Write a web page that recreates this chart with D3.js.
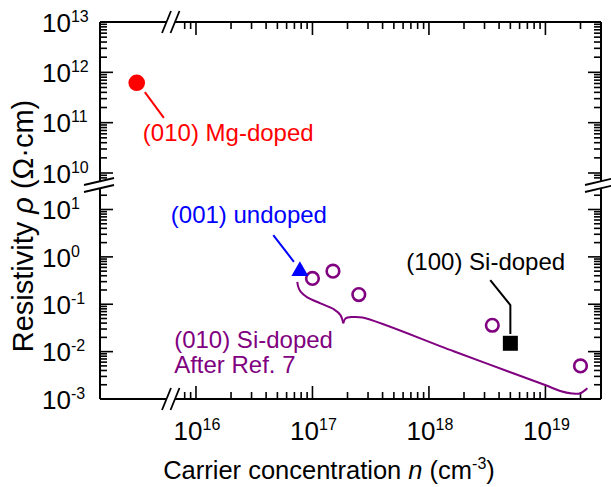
<!DOCTYPE html>
<html>
<head>
<meta charset="utf-8">
<script src="https://cdn.jsdelivr.net/npm/d3@7"></script>
<style>
  body { margin: 0; background: #fff; }
  text { font-family: "Liberation Sans", Arial, sans-serif; }
</style>
</head>
<body>
<svg id="chart" width="611" height="487"></svg>
<script>
// values (x: cm^-3, y: ohm.cm)
const mgDopedX = [3.1e15];
const mgDopedY = [6.2e11];
const undopedX = [7.8e16];
const undopedY = [0.5];
const siRef7X = [1e17, 1.5e17, 2.5e17, 3.5e18, 2e19];
const siRef7Y = [0.35, 0.5, 0.16, 0.036, 0.005];
const si100X = [5e18];
const si100Y = [0.015];

const xTickExps = [16, 17, 18, 19];
const yTopExps = [10, 11, 12, 13];
const yBotExps = [-3, -2, -1, 0, 1];

// curly brace + leader lines, in data units
const braceLeftX = [7.41e16, 7.55e16, 7.91e16, 9.03e16, 1.17e17, 1.53e17, 1.74e17, 1.84e17];
const braceLeftY = [0.298, 0.234, 0.184, 0.140, 0.1045, 0.078, 0.059, 0.0395];
const braceRightX = [1.84e17, 1.92e17, 2.21e17, 2.69e17, 1.63e18, 9.94e18, 1.34e19, 1.69e19, 1.98e19, 2.29e19];
const braceRightY = [0.0395, 0.0499, 0.0537, 0.0524, 0.01017, 0.00197, 0.00148, 0.00131, 0.00131, 0.00168];
const mgLeadX = [3.64e15, 5.3e15];
const mgLeadY = [4.06e11, 1.24e11];
const undopedLeadX = [4.61e16, 6.93e16];
const undopedLeadY = [2.88, 0.788];
const si100LeadX = [3.36e18, 5e18, 5e18];
const si100LeadY = [0.324, 0.0962, 0.0235];

const L = 100, R = 601, T = 22, B = 399;
const XB1 = 166.5, XB2 = 175;      // x-axis break
const YB1 = 181.5, YB2 = 188.5;    // y-axis break

const svg = d3.select('#chart');
const x = d3.scaleLog().domain([1.5e15, 3e19]).range([L, R]);
const yTop = d3.scaleLog().domain([1e10, 1e13]).range([173, T]);
const yBot = d3.scaleLog().domain([1e-3, 1e1]).range([B, 209.5]);

const frame = svg.append('g').attr('stroke', '#000').attr('fill', 'none');

// axis lines with gaps at the breaks
const hSegs = [[L, XB1], [XB2, R]];
const vSegs = [[T, YB1], [YB2, B]];
hSegs.forEach(([a, b]) => {
  [T, B].forEach(yy => frame.append('line').attr('x1', a).attr('x2', b)
    .attr('y1', yy).attr('y2', yy).attr('stroke-width', 2));
});
vSegs.forEach(([a, b]) => {
  [L, R].forEach(xx => frame.append('line').attr('x1', xx).attr('x2', xx)
    .attr('y1', a).attr('y2', b).attr('stroke-width', 2));
});

// break slashes
[XB1, XB2].forEach(xb => {
  [T, B].forEach(yy => frame.append('line')
    .attr('x1', xb - 4.5).attr('y1', yy + 11).attr('x2', xb + 4.5).attr('y2', yy - 11)
    .attr('stroke-width', 1.8));
});
[YB1, YB2].forEach(yb => {
  [L, R].forEach(xx => frame.append('line')
    .attr('x1', xx - 16).attr('y1', yb + 3.5).attr('x2', xx + 14).attr('y2', yb - 3.5)
    .attr('stroke-width', 1.8));
});

function logTicks(lo, hi) {
  const out = [];
  for (let e = lo; e <= hi; e++) for (let m = 1; m <= 9; m++) out.push({ v: m * Math.pow(10, e), major: m === 1 });
  return out;
}

// x ticks (only right of the break)
logTicks(15, 19).forEach(t => {
  const px = x(t.v);
  if (px < XB2 + 5 || px > R + 0.5) return;
  const len = t.major ? 13 : 7;
  frame.append('line').attr('x1', px).attr('x2', px).attr('y1', B).attr('y2', B - len).attr('stroke-width', 1.6);
  frame.append('line').attr('x1', px).attr('x2', px).attr('y1', T).attr('y2', T + len).attr('stroke-width', 1.6);
});

// y ticks, both sections, both sides
function yTicks(scale, lo, hi, pmin, pmax) {
  logTicks(lo, hi).forEach(t => {
    const py = scale(t.v);
    if (py < pmin - 0.5 || py > pmax + 0.5) return;
    const len = t.major ? 13 : 7;
    frame.append('line').attr('x1', L).attr('x2', L + len).attr('y1', py).attr('y2', py).attr('stroke-width', 1.6);
    frame.append('line').attr('x1', R).attr('x2', R - len).attr('y1', py).attr('y2', py).attr('stroke-width', 1.6);
  });
}
yTicks(yTop, 9, 13, T, YB1 - 3);
yTicks(yBot, -3, 1, YB2 + 4, B);

// tick labels
const labels = svg.append('g').attr('fill', '#000');
function powLabel(g, px, py, exp, anchor) {
  const t = g.append('text').attr('x', px).attr('y', py).attr('text-anchor', anchor)
    .style('font-size', '26px');
  t.append('tspan').text('10');
  t.append('tspan').attr('dy', -10).style('font-size', '16px').text(exp < 0 ? '-' + (-exp) : exp);
}
xTickExps.forEach(e => powLabel(labels, x(Math.pow(10, e)) + 1, 439.5, e, 'middle'));
yTopExps.forEach(e => powLabel(labels, 42, yTop(Math.pow(10, e)) + 9.8, e, 'start'));
yBotExps.forEach(e => powLabel(labels, 42, yBot(Math.pow(10, e)) + 9.8, e, 'start'));

// axis titles
const xt = svg.append('text').attr('x', 329).attr('y', 479).attr('text-anchor', 'middle')
  .style('font-size', '25.5px');
xt.append('tspan').text('Carrier concentration ');
xt.append('tspan').style('font-style', 'italic').text('n');
xt.append('tspan').text(' (cm');
xt.append('tspan').attr('dy', -10).style('font-size', '16px').text('-3');
xt.append('tspan').attr('dy', 10).text(')');

const yt = svg.append('text').attr('transform', 'translate(33,226) rotate(-90)')
  .attr('text-anchor', 'middle').style('font-size', '29px');
yt.append('tspan').text('Resistivity ');
yt.append('tspan').style('font-style', 'italic').text('ρ');
yt.append('tspan').text(' (Ω·cm)');

// brace and leader lines
const lineBot = d3.line().x(d => x(d[0])).y(d => yBot(d[1])).curve(d3.curveCatmullRom);
const lineTop = d3.line().x(d => x(d[0])).y(d => yTop(d[1]));
const zip = (a, b) => a.map((v, i) => [v, b[i]]);

svg.append('path').attr('d', lineBot(zip(braceLeftX, braceLeftY)))
  .attr('fill', 'none').attr('stroke', '#800080').attr('stroke-width', 2);
svg.append('path').attr('d', lineBot(zip(braceRightX, braceRightY)))
  .attr('fill', 'none').attr('stroke', '#800080').attr('stroke-width', 2);
svg.append('path').attr('d', lineTop(zip(mgLeadX, mgLeadY)))
  .attr('fill', 'none').attr('stroke', '#ff0000').attr('stroke-width', 2);
svg.append('path').attr('d', d3.line().x(d => x(d[0])).y(d => yBot(d[1]))(zip(undopedLeadX, undopedLeadY)))
  .attr('fill', 'none').attr('stroke', '#0000ff').attr('stroke-width', 2);
svg.append('path').attr('d', d3.line().x(d => x(d[0])).y(d => yBot(d[1]))(zip(si100LeadX, si100LeadY)))
  .attr('fill', 'none').attr('stroke', '#000').attr('stroke-width', 2);

// markers
svg.append('g').selectAll('circle').data(zip(mgDopedX, mgDopedY)).join('circle')
  .attr('cx', d => x(d[0])).attr('cy', d => yTop(d[1])).attr('r', 8.3).attr('fill', '#ff0000');
svg.append('g').selectAll('circle').data(zip(siRef7X, siRef7Y)).join('circle')
  .attr('cx', d => x(d[0])).attr('cy', d => yBot(d[1])).attr('r', 6.3)
  .attr('fill', 'none').attr('stroke', '#800080').attr('stroke-width', 2.6);
svg.append('g').selectAll('path').data(zip(undopedX, undopedY)).join('path')
  .attr('transform', d => `translate(${x(d[0])},${yBot(d[1])})`)
  .attr('d', d3.symbol(d3.symbolTriangle, 125)).attr('fill', '#0000ff');
svg.append('g').selectAll('rect').data(zip(si100X, si100Y)).join('rect')
  .attr('x', d => x(d[0]) - 7.5).attr('y', d => yBot(d[1]) - 7.5)
  .attr('width', 15).attr('height', 15).attr('fill', '#000');

// annotation text
const ann = svg.append('g').style('font-size', '24px');
ann.append('text').attr('x', x(3.5e15)).attr('y', yTop(4.3e10)).attr('fill', '#ff0000').text('(010) Mg-doped');
ann.append('text').attr('x', x(6.08e15)).attr('y', yBot(5.17)).attr('fill', '#0000ff').text('(001) undoped');
ann.append('text').attr('x', x(6.4e17)).attr('y', yBot(0.527)).attr('fill', '#000').text('(100) Si-doped');
ann.append('text').attr('x', x(6.5e15)).attr('y', yBot(0.01174)).attr('fill', '#800080').text('(010) Si-doped');
ann.append('text').attr('x', x(6.5e15)).attr('y', yBot(0.00359)).attr('fill', '#800080').text('After Ref. 7');
</script>
</body>
</html>
